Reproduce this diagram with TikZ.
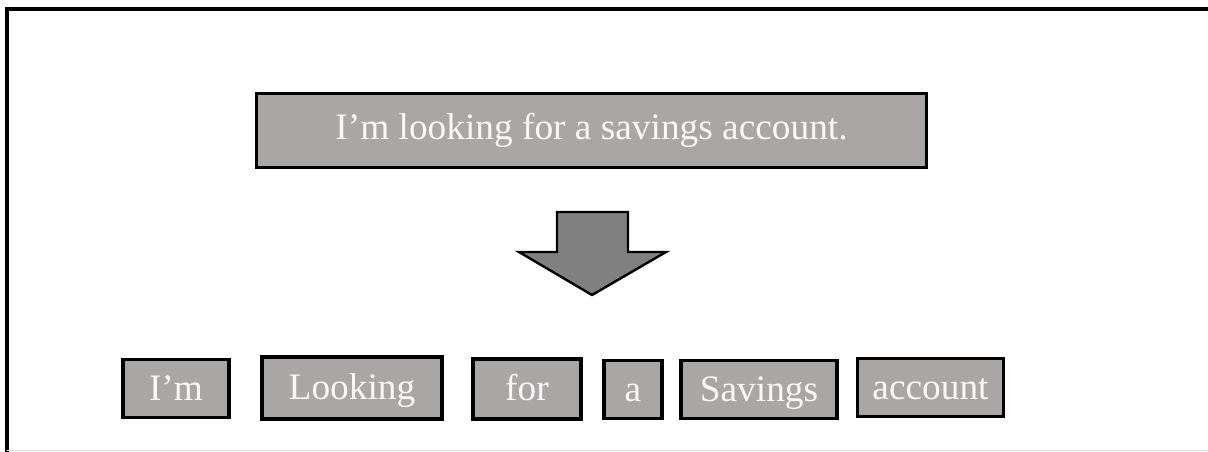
\documentclass[tikz,border=0pt]{standalone}
\usepackage{fontspec}
\setmainfont{Liberation Serif}
\usepackage{tikz}
\usetikzlibrary{positioning}
\definecolor{boxgray}{RGB}{170,166,166}
\definecolor{arrowgray}{RGB}{128,128,128}
\definecolor{textwhite}{RGB}{248,248,248}

\begin{document}
\begin{tikzpicture}[
    x=0.75pt, y=-0.75pt,
    every node/.style={font=\fontsize{28}{30}\selectfont},
    sentence/.style={
        rectangle,
        draw=black,
        line width=2.4pt,
        fill=boxgray,
        text=textwhite,
        align=center,
        minimum width=503pt,
        minimum height=55pt
    },
    token/.style={
        rectangle,
        draw=black,
        line width=2.4pt,
        fill=boxgray,
        text=textwhite,
        text height=24pt,
        text depth=6pt,
        inner sep=0pt,
        minimum height=44pt
    },
    bigarrow/.style={draw=black, line width=1.8pt, fill=arrowgray}
]

\useasboundingbox (0,0) rectangle (1208,452);

% frame
\draw[line width=2.6pt] (1208,9) -- (7,9) -- (7,452);
\draw[black!12, line width=1pt] (7,450.5) -- (1208,450.5);

\node[sentence] (sent) at (591.5,130.5) {I'm looking for a savings account.};

\draw[bigarrow] (557,212) -- (628,212) -- (628,252) -- (666,252) -- (592,295)
    -- (519,252) -- (557,252) -- cycle;

\node[token, minimum width=79.5pt] (im) at (176,388.5) {I'm};
\node[token, minimum width=135pt, minimum height=46.5pt] (looking) at (352,388) {Looking};
\node[token, minimum width=81pt, minimum height=45pt] (for) at (527,389) {for};
\node[token, minimum width=43.5pt, minimum height=43pt] (a) at (633,389.5) {a};
\node[token, minimum width=117pt, minimum height=43pt] (savings) at (759,389.5) {Savings};
\node[token, minimum width=110pt, minimum height=43pt] (account) at (930.5,387.5) {account};

\end{tikzpicture}
\end{document}
